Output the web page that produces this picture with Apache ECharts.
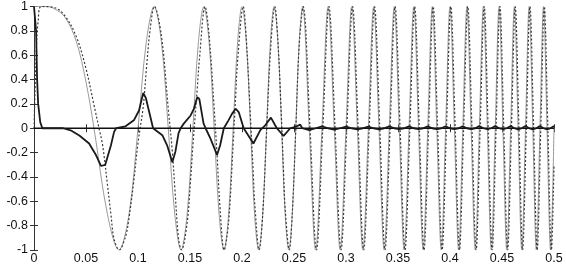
<!DOCTYPE html>
<html>
<head>
<meta charset="utf-8">
<script src="https://cdn.jsdelivr.net/npm/echarts@6/dist/echarts.min.js"></script>
<style>
html,body{margin:0;padding:0;background:#fff;}
#c{width:566px;height:265px;}
</style>
</head>
<body>
<div id="c"></div>
<script>
// x tick labels and y tick labels
var xTickLabels = ['0','0.05','0.1','0.15','0.2','0.25','0.3','0.35','0.4','0.45','0.5'];
var yTickLabels = ['-1','-0.8','-0.6','-0.4','-0.2','0','0.2','0.4','0.6','0.8','1'];

// reference signal (gray solid) [t, value]
var reference = [
[0,1],[0.012,1],[0.02,0.98],[0.03,0.91],[0.0408,0.71],[0.05,0.38],[0.0577,0],[0.0707,-0.71],[0.0816,-1],[0.0913,-0.71],[0.1,0],[0.108,0.71],[0.1155,1],[0.1225,0.71],[0.1291,0],[0.1354,-0.71],[0.1414,-1],[0.1472,-0.71],[0.1528,0],[0.1581,0.71],[0.1633,1],[0.1683,0.71],[0.1732,0],[0.178,-0.71],[0.1826,-1],[0.1871,-0.71],[0.1915,0],[0.1958,0.71],[0.2,1],[0.2041,0.71],[0.2082,0],[0.2121,-0.71],[0.216,-1],[0.2199,-0.71],[0.2236,0],[0.2273,0.71],[0.2309,1],[0.2345,0.71],[0.2381,0],[0.2415,-0.71],[0.245,-1],[0.2483,-0.71],[0.2517,0],[0.255,0.71],[0.2582,1],
[0.2646,0],[0.2708,-1],[0.2769,0],[0.2828,1],[0.2887,0],[0.2944,-1],[0.3,0],[0.3055,1],[0.3109,0],[0.3162,-1],[0.3215,0],[0.3266,1],[0.3317,0],[0.3367,-1],[0.3416,0],[0.3464,1],[0.3512,0],[0.3559,-1],[0.3606,0],[0.3652,1],[0.3697,0],[0.3742,-1],[0.3786,0],[0.383,1],[0.3873,0],[0.3916,-1],[0.3958,0],[0.4,1],[0.4042,0],[0.4083,-1],[0.4123,0],[0.4163,1],[0.4203,0],[0.4243,-1],[0.4282,0],[0.4321,1],[0.4359,0],[0.4397,-1],[0.4435,0],[0.4472,1],[0.4509,0],[0.4546,-1],[0.4583,0],[0.4619,1],[0.4655,0],[0.469,-1],[0.4726,0],[0.4761,1],[0.4796,0],[0.483,-1],[0.4865,0],[0.4899,1],[0.4933,0],[0.4967,-1],[0.5,0]
];

// system output (dotted) [t, value]
var output = [
[0,0],[0.001,0.3],[0.0023,0.66],[0.004,0.88],[0.007,1],[0.02,0.99],[0.03,0.92],[0.0408,0.75],[0.05,0.49],[0.0577,0.19],[0.0625,0],[0.066,-0.14],[0.0707,-0.47],[0.074,-0.71],[0.077,-0.91],[0.082,-1],[0.088,-0.89],[0.0913,-0.74],[0.096,-0.43],[0.1,-0.12],[0.105,0.175],[0.108,0.48],[0.1115,0.8],[0.1158,1],[0.1225,0.76],[0.1291,0.16],[0.133,-0.19],[0.1354,-0.49],[0.139,-0.91],[0.1418,-1],[0.1472,-0.78],[0.1506,-0.42],[0.1528,-0.14],[0.157,0.33],[0.159,0.56],[0.1645,1],[0.1683,0.77],[0.1732,0.17],[0.176,-0.22],[0.179,-0.67],[0.1828,-1],[0.187,-0.78],[0.1915,-0.13],[0.194,0.28],[0.1958,0.56],[0.2012,1],[0.2041,0.74],[0.2082,0.08],[0.211,-0.4],[0.2121,-0.6],[0.2165,-1],[0.2199,-0.71],[0.2236,-0.04],[0.2273,0.62],[0.2315,1],[0.2345,0.72],[0.2381,0.05],[0.24,-0.37],[0.2415,-0.66],[0.2455,-1],[0.2483,-0.71],[0.2517,-0.015],[0.255,0.68],[0.2588,1],
[0.2654,0],[0.2716,-1],[0.2777,0],[0.2836,1],[0.2895,0],[0.2952,-1],[0.3008,0],[0.3063,1],[0.3117,0],[0.317,-1],[0.3223,0],[0.3274,1],[0.3325,0],[0.3375,-1],[0.3424,0],[0.3472,1],[0.352,0],[0.3567,-1],[0.3614,0],[0.366,1],[0.3705,0],[0.375,-1],[0.3794,0],[0.3838,1],[0.3881,0],[0.3924,-1],[0.3966,0],[0.4008,1],[0.405,0],[0.4091,-1],[0.4131,0],[0.4171,1],[0.4211,0],[0.4251,-1],[0.429,0],[0.4329,1],[0.4367,0],[0.4405,-1],[0.4443,0],[0.448,1],[0.4517,0],[0.4554,-1],[0.4591,0],[0.4627,1],[0.4663,0],[0.4698,-1],[0.4734,0],[0.4769,1],[0.4804,0],[0.4838,-1],[0.4873,0],[0.4907,1],[0.4941,0],[0.4975,-1],[0.5,-0.3]
];

// tracking error (dark solid) [t, value]
var error = [
[0,1],[0.002,0.8],[0.003,0.4],[0.004,0.2],[0.006,0.05],[0.008,0],[0.028,0],[0.036,-0.02],[0.0436,-0.06],[0.053,-0.125],[0.0596,-0.22],[0.0644,-0.31],[0.066,-0.32],[0.0685,-0.3],[0.074,-0.14],[0.077,-0.03],[0.079,0],[0.088,0.016],[0.096,0.065],[0.101,0.146],[0.105,0.29],[0.1075,0.25],[0.1145,0],[0.1234,-0.057],[0.128,-0.14],[0.133,-0.28],[0.136,-0.19],[0.139,-0.04],[0.141,0],[0.144,0.038],[0.1506,0.105],[0.1537,0.16],[0.157,0.255],[0.159,0.24],[0.163,0.04],[0.165,0],[0.1697,-0.085],[0.176,-0.22],[0.179,-0.14],[0.1825,0],[0.187,0.065],[0.1905,0.12],[0.194,0.16],[0.197,0.13],[0.2016,0],[0.211,-0.125],[0.2176,-0.016],[0.219,0],[0.2223,0.024],[0.2278,0.087],[0.2335,0],[0.24,-0.062],[0.2464,0],[0.2527,0.016],[0.256,0.03],[0.258,0],
[0.2646,-0.015],[0.2708,0],[0.2769,0.015],[0.2828,0],[0.2887,-0.012],[0.2944,0],[0.3,0.014],[0.3055,0],[0.3109,-0.01],[0.3162,0],[0.3215,0.014],[0.3266,0],[0.3317,-0.01],[0.3367,0],[0.3416,0.015],[0.3464,0],[0.3512,-0.008],[0.3559,0],[0.3606,0.015],[0.3652,0],[0.3697,-0.008],[0.3742,0],[0.3786,0.016],[0.383,0],[0.3873,-0.008],[0.3916,0],[0.3958,0.016],[0.4,0],[0.4042,-0.008],[0.4083,0],[0.4123,0.016],[0.4163,0],[0.4203,-0.008],[0.4243,0],[0.4282,0.018],[0.4321,0],[0.4359,-0.008],[0.4397,0],[0.4435,0.018],[0.4472,0],[0.4509,-0.008],[0.4546,0],[0.4583,0.018],[0.4619,0],[0.4655,-0.01],[0.469,0],[0.4726,0.018],[0.4761,0],[0.4796,-0.01],[0.483,0],[0.4865,0.018],[0.4899,0],[0.4933,-0.01],[0.4967,0],[0.5,0.018]
];

// zero reference line
var zeroLine = [[0,0],[0.5,0]];

var chart = echarts.init(document.getElementById('c'), null, {renderer:'canvas'});
var labelFont = {color:'#111', fontFamily:'Liberation Sans, Arial, sans-serif', fontSize:12.5};
var axisLine = {show:true, lineStyle:{color:'#333', width:1}};
var tickIn = {show:true, inside:true, length:4, lineStyle:{color:'#333', width:1}};
chart.setOption({
  animation:false,
  backgroundColor:'#fff',
  grid:{left:34, right:12, top:5, bottom:14, containLabel:false},
  xAxis:[
    {type:'value', min:0, max:0.5, interval:0.05, position:'bottom',
     axisLine:axisLine, axisTick:tickIn, splitLine:{show:false},
     axisLabel:Object.assign({margin:2, formatter:function(v,i){return xTickLabels[i];}}, labelFont)},
    {type:'value', min:0, max:0.5, interval:0.05, position:'top',
     axisLine:axisLine, axisTick:tickIn, splitLine:{show:false}, axisLabel:{show:false}}
  ],
  yAxis:[
    {type:'value', min:-1, max:1, interval:0.2, position:'left',
     axisLine:axisLine, axisTick:tickIn, splitLine:{show:false},
     axisLabel:Object.assign({margin:6, formatter:function(v,i){return yTickLabels[i];}}, labelFont)},
    {type:'value', min:-1, max:1, interval:0.2, position:'right',
     axisLine:axisLine, axisTick:tickIn, splitLine:{show:false}, axisLabel:{show:false}}
  ],
  series:[
    {type:'line', data:reference, showSymbol:false, smooth:0.35, clip:true,
     lineStyle:{color:'#9a9a9a', width:1}, z:2},
    {type:'line', data:output, showSymbol:false, smooth:0.35, clip:true,
     lineStyle:{color:'#3a3a3a', width:1.2, type:[2,2]}, z:3},
    {type:'line', data:zeroLine, showSymbol:false,
     lineStyle:{color:'#111', width:1.6}, z:4},
    {type:'line', data:error, showSymbol:false, smooth:false, clip:true,
     lineStyle:{color:'#1a1a1a', width:1.8}, z:5}
  ]
});
</script>
</body>
</html>
